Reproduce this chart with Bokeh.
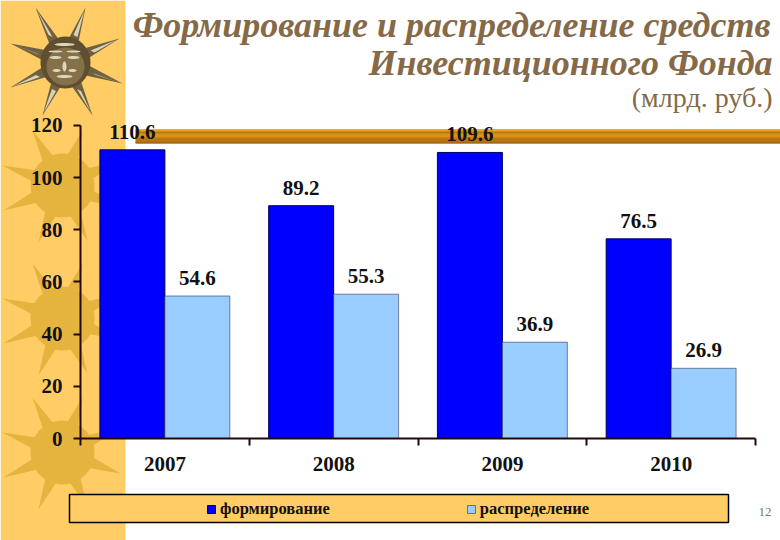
import numpy as np
from bokeh.embed import file_html
from bokeh.models import (BoxAnnotation, ColumnDataSource, FixedTicker, Label, LabelSet,
                          Legend, LegendItem, PolyAnnotation, Range1d)
from bokeh.plotting import figure
from bokeh.resources import INLINE

categories = ["2007", "2008", "2009", "2010"]
formed = [110.6, 89.2, 109.6, 76.5]
spent = [54.6, 55.3, 36.9, 26.9]
y_ticks = [0, 20, 40, 60, 80, 100, 120]
series_names = ["формирование", "распределение"]
title_lines = ["Формирование и распределение средств", "Инвестиционного Фонда"]
unit_text = "(млрд. руб.)"
page_number = "12"

W, H = 780, 540
BAR = 0.385
FONT = "Liberation Serif"
CAT_PX = 168.75   # pixels per category
VAL_PX = 2.61     # pixels per unit of value

# The frame fills the canvas; the axes sit inside it at fixed locations.
p = figure(width=W, height=H, output_backend="svg", toolbar_location=None,
           x_range=Range1d(-80 / CAT_PX, (W - 80) / CAT_PX),
           y_range=Range1d((438 - H) / VAL_PX, 438 / VAL_PX),
           min_border=0, background_fill_color="white", border_fill_color="white",
           outline_line_color=None)
p.grid.visible = False


def box(l, r, t, b, color, level="underlay", **kw):
    p.add_layout(BoxAnnotation(left=l, right=r, top=t, bottom=b,
                               left_units="canvas", right_units="canvas",
                               top_units="canvas", bottom_units="canvas",
                               fill_color=color, fill_alpha=1, line_color=kw.get("line", None),
                               line_alpha=1, line_width=kw.get("lw", 1), level=level, editable=False))


def poly(xs, ys, color, level="underlay"):
    p.add_layout(PolyAnnotation(xs=list(xs), ys=list(ys), xs_units="canvas", ys_units="canvas",
                                fill_color=color, fill_alpha=1, line_color=None, level=level))


def star(cx, cy, tips, radius, spread=0.30):
    xs, ys = [], []
    for dx, dy in tips:
        a = np.arctan2(dy, dx)
        for b in (a - spread, None, a + spread):
            if b is None:
                xs.append(cx + dx)
                ys.append(cy + dy)
            else:
                xs.append(cx + radius * np.cos(b))
                ys.append(cy + radius * np.sin(b))
    return xs, ys


# sidebar and its tiled pale suns
box(0, 125, 0, 540, "#FFCC66")
pale_tips = [(-30, -55), (20, -55), (58, -25), (58, 21), (25, 55), (-24, 57), (-59, 25), (-60, -20)]
t = np.linspace(0, 2 * np.pi, 40)
for cy in (185, 318, 452):
    poly(*star(62, cy, pale_tips, 30, 0.2), "#E5B43F")
    poly(62 + 32 * np.cos(t), cy + 32 * np.sin(t), "#E5B43F")

# metallic sun
metal_tips = [(-30, -55), (20, -55), (54, -24), (57, 21), (27, 53), (-23, 53), (-55, 25), (-55, -19)]
poly(*star(65, 62, metal_tips, 24, 0.22), "#6F6040")
for dx, dy in metal_tips:
    poly([65 + .5 * dx - 2, 65 + .95 * dx, 65 + .5 * dx + 2],
         [62 + .5 * dy, 62 + .95 * dy, 62 + .5 * dy + 2], "#D9D2B5")
poly(65 + 25 * np.cos(t), 62 + 26 * np.sin(t), "#5F4F30")
poly(65 + 19 * np.cos(t), 66 + 19 * np.sin(t), "#84714A")
for cx_, cy_, rx, ry in [(55, 57, 6, 1.5), (73, 57, 6, 1.5), (55, 51, 7, 1), (73, 51, 7, 1),
                         (64, 66, 2, 5), (64, 76, 8, 1.5), (64, 44, 10, 1.5), (56, 70, 4, 1.5), (72, 70, 4, 1.5)]:
    poly(cx_ + rx * np.cos(t), cy_ + ry * np.sin(t), "#DDD6B8")

# gold rule
box(135, 780, 129, 143, "#B8780F")
box(135, 780, 129, 131, "#E8A11E")
box(135, 780, 133, 137, "#D8941A")
box(135, 780, 141, 143, "#A8691A")

# legend band
box(69, 728, 494, 522, "#FFCC66", line="black", lw=1.5)

x = np.arange(len(categories)) + 0.5
src = ColumnDataSource(dict(x1=x - BAR / 2, x2=x + BAR / 2, formed=formed, spent=spent,
                            l1=[f"{v:.1f}" for v in formed], l2=[f"{v:.1f}" for v in spent]))
r1 = p.vbar(x="x1", top="formed", width=BAR, source=src, fill_color="#0000FF", line_color="#000060", line_width=1)
r2 = p.vbar(x="x2", top="spent", width=BAR, source=src, fill_color="#99CCFF", line_color="#333355", line_width=0.6)

for xc, yc, lab in (("x1", "formed", "l1"), ("x2", "spent", "l2")):
    p.add_layout(LabelSet(x=xc, y=yc, text=lab, source=src, text_align="center", text_baseline="bottom",
                          y_offset=11, text_font=FONT, text_font_size="21px", text_font_style="bold",
                          text_color="#111111", level="overlay"))

# axes
ya = p.yaxis[0]
ya.fixed_location = 0
ya.bounds = (0, 120)
ya.ticker = FixedTicker(ticks=y_ticks)
ya.minor_tick_line_color = None
ya.major_tick_in = 0
ya.major_tick_out = 7
ya.major_label_standoff = 11
ya.axis_line_width = 2
ya.major_tick_line_width = 2
ya.axis_line_color = "#220808"
ya.major_tick_line_color = "#220808"
ya.major_label_text_font = FONT
ya.major_label_text_font_size = "21px"
ya.major_label_text_font_style = "bold"
ya.major_label_text_color = "#111111"

xa = p.xaxis[0]
xa.fixed_location = 0
xa.bounds = (0, 4)
xa.ticker = FixedTicker(ticks=list(x), minor_ticks=list(range(len(categories) + 1)))
xa.major_label_overrides = {float(v): c for v, c in zip(x, categories)}
xa.major_tick_line_color = None
xa.minor_tick_in = 0
xa.minor_tick_out = 7
xa.minor_tick_line_width = 2
xa.minor_tick_line_color = "#220808"
xa.axis_line_width = 2
xa.axis_line_color = "#220808"
xa.major_label_standoff = 11
xa.major_label_text_font = FONT
xa.major_label_text_font_size = "21px"
xa.major_label_text_font_style = "bold"
xa.major_label_text_color = "#111111"

legend = Legend(items=[LegendItem(label=series_names[0], renderers=[r1]),
                       LegendItem(label=series_names[1], renderers=[r2])],
                orientation="horizontal", location=(206, 21), spacing=136, padding=0, margin=0,
                background_fill_alpha=0, border_line_color=None, glyph_width=10, glyph_height=10,
                label_standoff=4, label_text_font=FONT, label_text_font_size="16.5px",
                label_text_font_style="bold", label_text_color="#111111", label_height=14)
p.add_layout(legend, "center")


def text(px, py, s, size, color, style="normal", align="right"):
    p.add_layout(Label(x=px, y=py, x_units="canvas", y_units="canvas", text=s,
                       text_font=FONT, text_font_size=size, text_font_style=style,
                       text_color=color, text_align=align, text_baseline="middle"))


text(770, 24, title_lines[0], "36px", "#866A48", "bold italic")
text(772, 62, title_lines[1], "36px", "#866A48", "bold italic")
text(772, 97, unit_text, "28px", "#866A48")
text(771, 511, page_number, "13px", "#777777")

open("out.html", "w").write(file_html(p, INLINE))
